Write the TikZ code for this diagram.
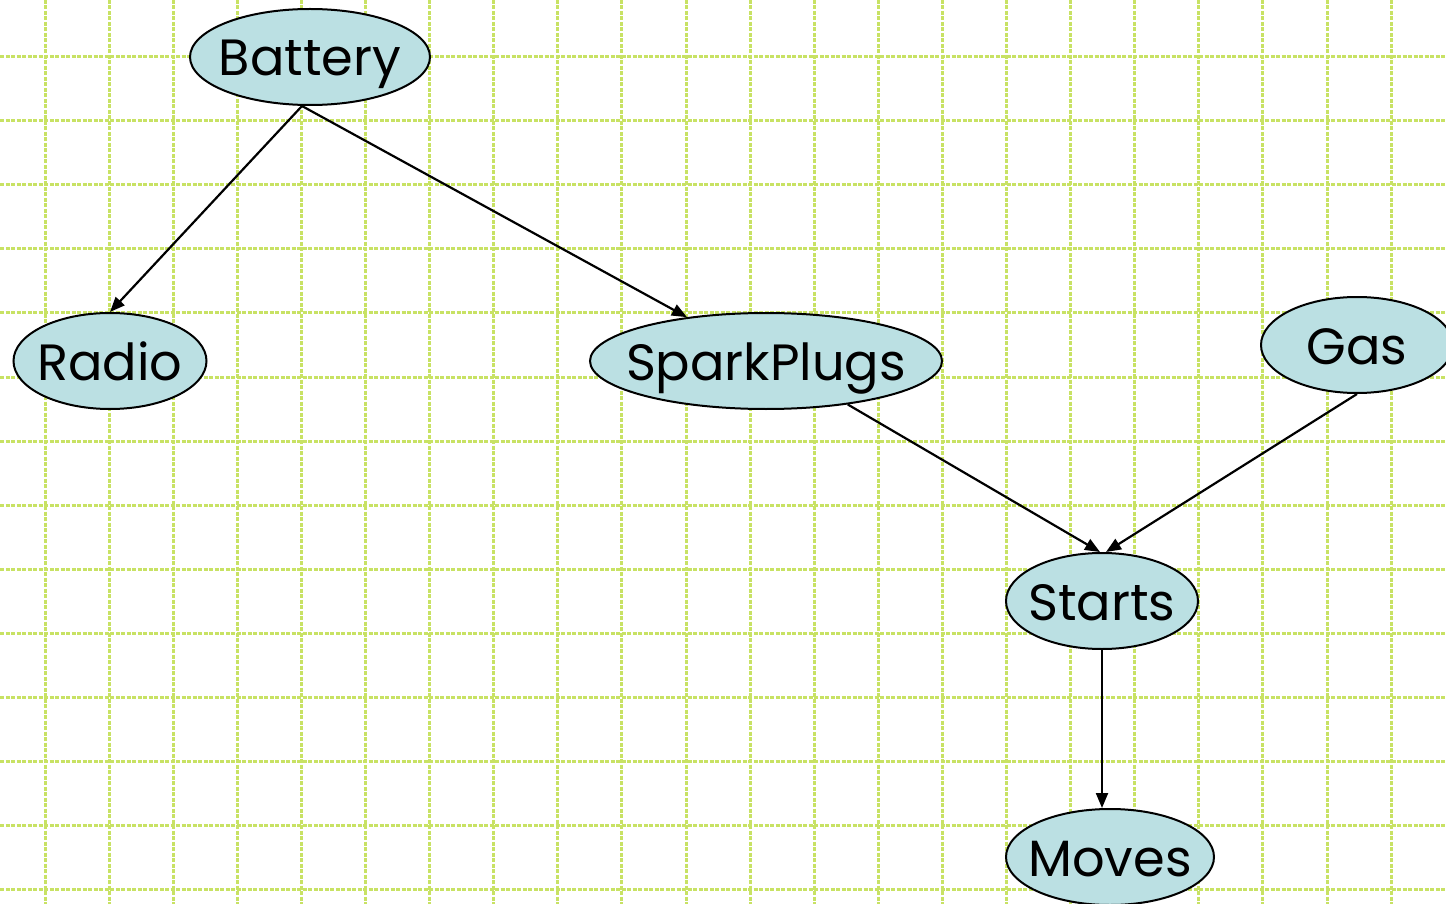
\documentclass[tikz,border=0pt]{standalone}
\usepackage{fontspec}
\setmainfont{Poppins}
\usetikzlibrary{shapes.geometric,arrows.meta}
\definecolor{gridgreen}{RGB}{200,226,100}
\definecolor{nodefill}{RGB}{187,224,227}
\tikzset{
  gridline/.style={draw=gridgreen, line width=3pt, dash pattern=on 4pt off 1.5pt},
  bnode/.style={ellipse, draw=black, line width=2pt, fill=nodefill, inner sep=0pt,
    minimum height=96pt, text height=38pt, text depth=0pt,
    font=\fontsize{51}{56}\selectfont},
  edge/.style={line width=2.2pt, -{Triangle[length=15pt,width=12pt]}}
}
% centred label that does not widen the ellipse
\newcommand{\lbl}[1]{\makebox[0pt][c]{#1}}
\begin{document}
\begin{tikzpicture}[x=1pt,y=-1pt]
  \useasboundingbox (0,0) rectangle (1446,904);
  \clip (0,0) rectangle (1446,904);
  % background grid
  \foreach \k in {0,...,21} \draw[gridline] (45+64.1*\k,0) -- (45+64.1*\k,904);
  \foreach \k in {0,...,13} \draw[gridline] (0,56.5+64.1*\k) -- (1446,56.5+64.1*\k);
  % variables
  \node[bnode, minimum width=240pt] (battery) at (310,57) {\lbl{Battery}};
  \node[bnode, minimum width=193pt] (radio) at (110,361) {\lbl{Radio}};
  \node[bnode, minimum width=352pt] (spark) at (766,361) {\lbl{SparkPlugs}};
  \node[bnode, minimum width=192pt] (gas) at (1357,345) {\lbl{Gas}};
  \node[bnode, minimum width=192pt] (starts) at (1102,601) {\lbl{Starts}};
  \node[bnode, minimum width=208pt] (moves) at (1110,857) {\lbl{Moves}};
  % dependencies
  \coordinate (bout) at ([xshift=-8pt]battery.south);
  \draw[edge] (bout) -- (radio.north);
  \draw[edge] (bout) -- (spark.151);
  \draw[edge] (spark.-28) -- ([xshift=-2pt]starts.north);
  \draw[edge] (gas.south) -- ([xshift=4pt]starts.north);
  \draw[edge] (starts.south) -- (starts.south |- moves.north);
\end{tikzpicture}
\end{document}
